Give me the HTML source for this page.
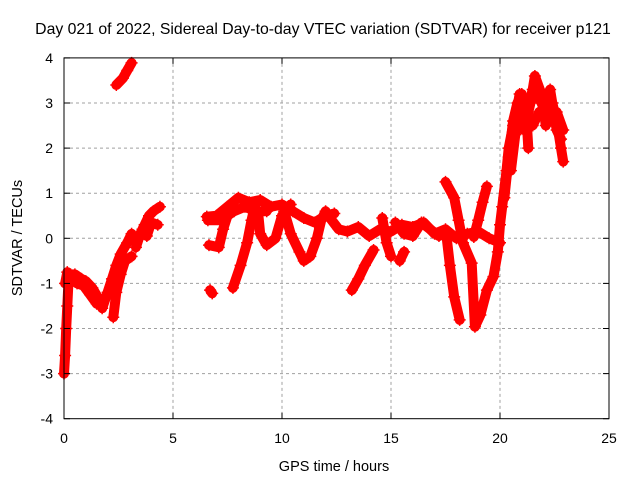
<!DOCTYPE html>
<html><head><meta charset="utf-8"><style>
body{margin:0;background:#fff}
svg{display:block;font-family:"Liberation Sans",sans-serif}
</style></head><body>
<svg id="chart" width="640" height="480">
<text x="323" y="34" text-anchor="middle" font-size="15.8">Day 021 of 2022, Sidereal Day-to-day VTEC variation (SDTVAR) for receiver p121</text>
<g id="grid"></g>
<g id="series"></g>
<rect x="64" y="57.9" width="545" height="360.8" fill="none" stroke="#000" stroke-width="1"/>
<g id="axes"></g>
<text x="334" y="471" text-anchor="middle" font-size="14.5">GPS time / hours</text>
<text transform="translate(22,238) rotate(-90)" text-anchor="middle" font-size="14.5">SDTVAR / TECUs</text>
</svg>
<script>
const xTicks=[0,5,10,15,20,25];
const yTicks=[-4,-3,-2,-1,0,1,2,3,4];
const segA_t=[0,0.05,0.1,0.15,0.2,0.3,0.5,0.8,1.0,1.3,1.6,1.75,2.0,2.2,2.4,2.6,2.9,3.1];
const segA_v=[-3.0,-2.6,-2.0,-1.5,-1.0,-0.8,-0.8,-0.9,-0.95,-1.1,-1.35,-1.55,-1.2,-0.9,-0.6,-0.35,-0.1,0.1];
const segA2_t=[0.05,0.15,0.3,0.6,0.9,1.2,1.5,1.7];
const segA2_v=[-1.0,-0.75,-0.9,-1.0,-1.05,-1.25,-1.45,-1.45];
const segB_t=[2.26,2.4,2.6,2.8,3.1];
const segB_v=[-1.75,-1.2,-0.8,-0.5,-0.4];
const segC_t=[3.3,3.5,3.7,3.9,4.1,4.4];
const segC_v=[-0.2,0.1,0.3,0.5,0.6,0.7];
const segC2_t=[3.6,3.8,4.0,4.3];
const segC2_v=[0.2,0.05,0.35,0.3];
const segD_t=[2.4,2.7,2.9,3.1];
const segD_v=[3.4,3.55,3.72,3.89];
const segE_t=[6.55,7.0,7.5,8.0,8.5,9.0,9.5,10.0,10.5,11.0,11.5,12.0,12.4];
const segE_v=[0.48,0.5,0.7,0.9,0.8,0.85,0.7,0.75,0.6,0.45,0.35,0.5,0.55];
const segE2_t=[6.6,7.2,7.8,8.3,8.8,9.3];
const segE2_v=[0.4,0.4,0.6,0.7,0.6,0.6];
const segF_t=[6.65,7.1,7.3,7.5];
const segF_v=[-0.15,-0.2,0.2,0.5];
const segG_t=[6.7,6.8];
const segG_v=[-1.15,-1.22];
const segH_t=[7.75,8.1,8.4,8.6,8.8];
const segH_v=[-1.1,-0.6,-0.1,0.4,0.8];
const segI_t=[8.9,9.0,9.3,9.7,10.0,10.4];
const segI_v=[0.6,0.1,-0.15,0.0,0.5,0.75];
const segJ_t=[10.1,10.4,10.8,11.0,11.3,11.6,11.8,12.0];
const segJ_v=[0.6,0.1,-0.3,-0.5,-0.4,0.0,0.4,0.6];
const segK_t=[12.2,12.6,13.0,13.5,14.0,14.5,15.0,15.5,16.0,16.5,17.0,17.5,18.0,18.5,19.0,19.5,20.0];
const segK_v=[0.45,0.2,0.15,0.25,0.05,0.2,0.15,0.3,0.25,0.35,0.1,0.2,0.0,0.1,0.15,0.0,-0.1];
const segK2_t=[15.2,15.6,16.0,16.4,16.8,17.2];
const segK2_v=[0.35,0.1,0.05,0.35,0.2,0.05];
const segL_t=[14.2,13.8,13.5,13.2];
const segL_v=[-0.26,-0.6,-0.9,-1.15];
const segM_t=[14.6,14.8,15.0];
const segM_v=[0.45,-0.1,-0.4];
const segN_t=[15.4,15.6];
const segN_v=[-0.5,-0.3];
const segO_t=[17.5,17.9,18.1,18.3,18.7,18.85,19.1,19.4,19.7,19.9,20.0,20.1,20.3,20.4,20.6,20.8,20.9];
const segO_v=[1.25,0.9,0.4,-0.1,-0.55,-1.96,-1.7,-1.15,-0.85,-0.3,0.3,0.7,1.5,2.0,2.5,2.9,3.2];
const segP_t=[17.55,17.7,17.9,18.15];
const segP_v=[0.03,-0.6,-1.3,-1.81];
const segQ_t=[18.8,19.0,19.2,19.4];
const segQ_v=[0.03,0.4,0.8,1.15];
const segR_t=[20.2,20.4,20.6,20.8,21.0,21.2,21.3];
const segR_v=[0.9,1.8,2.6,3.0,3.2,2.8,2.0];
const segR2_t=[20.5,20.7,20.9,21.1,21.3,21.5];
const segR2_v=[1.5,2.3,2.7,2.4,2.9,3.3];
const segS_t=[21.2,21.4,21.6,21.9,22.1,22.4,22.6,22.8,22.9];
const segS_v=[2.6,3.0,3.6,3.2,2.5,3.0,2.6,2.0,1.7];
const segT_t=[21.5,21.8,22.0,22.3,22.6,22.9];
const segT_v=[2.5,2.8,2.7,2.6,2.8,2.4];
const segU_t=[21.7,22.0,22.3,22.6,22.8];
const segU_v=[3.2,2.9,3.3,2.4,2.2];
const segments=[[segA_t,segA_v],[segA2_t,segA2_v],[segB_t,segB_v],[segC_t,segC_v],[segC2_t,segC2_v],[segD_t,segD_v],[segE_t,segE_v],[segE2_t,segE2_v],[segF_t,segF_v],[segG_t,segG_v],[segH_t,segH_v],[segI_t,segI_v],[segJ_t,segJ_v],[segK_t,segK_v],[segK2_t,segK2_v],[segL_t,segL_v],[segM_t,segM_v],[segN_t,segN_v],[segO_t,segO_v],[segP_t,segP_v],[segQ_t,segQ_v],[segR_t,segR_v],[segR2_t,segR2_v],[segS_t,segS_v],[segT_t,segT_v],[segU_t,segU_v]];

const NS="http://www.w3.org/2000/svg";
const X0=64,X1=609,Y0=418.7,Y1=57.9;
const xs=t=>X0+(t-0)/(25-0)*(X1-X0);
const ys=v=>Y0-(v-(-4))/(8)*(Y0-Y1);
const grid=document.getElementById('grid'),axes=document.getElementById('axes'),ser=document.getElementById('series');
function mk(tag,attrs,parent){const e=document.createElementNS(NS,tag);for(const k in attrs)e.setAttribute(k,attrs[k]);parent.appendChild(e);return e;}
xTicks.forEach(t=>{
  const x=xs(t);
  if(t>0&&t<25){const g=mk('line',{x1:x,x2:x,y1:Y1,y2:Y0,stroke:'#a0a0a0','stroke-dasharray':'3,3'},grid);
  
  }
  const a=mk('line',{x1:x,x2:x,y1:Y0,y2:Y0-6,stroke:'#000'},axes);
  
  
  const b=mk('line',{x1:x,x2:x,y1:Y1,y2:Y1+6,stroke:'#000'},axes);
  
  
  const l=mk('text',{x:x,y:443,'text-anchor':'middle','font-size':'14'},axes);
  l.textContent=t;
  
  
});
yTicks.forEach(v=>{
  const y=ys(v);
  if(v>-4&&v<4){const g=mk('line',{x1:X0,x2:X1,y1:y,y2:y,stroke:'#a0a0a0','stroke-dasharray':'3,3'},grid);
  
  }
  const a=mk('line',{x1:X0,x2:X0+6,y1:y,y2:y,stroke:'#000'},axes);
  
  
  const b=mk('line',{x1:X1,x2:X1-6,y1:y,y2:y,stroke:'#000'},axes);
  
  
  const l=mk('text',{x:53,y:y+5,'text-anchor':'end','font-size':'14'},axes);
  l.textContent=v;
  
  
});
segments.forEach(([T,V])=>{
  const pts=T.map((t,i)=>xs(t).toFixed(1)+','+ys(V[i]).toFixed(1)).join(' ');
  const pl=mk('polyline',{points:pts,fill:'none',stroke:'#ff0000','stroke-width':'10','stroke-linejoin':'round','stroke-linecap':'round'},ser);
  
  
  T.forEach((t,i)=>{
    const x=xs(t),y=ys(V[i]);
    const m=mk('path',{d:`M${x-6},${y}H${x+6}M${x},${y-6}V${y+6}`,stroke:'#ff0000','stroke-width':'1.5'},ser);
    
    
  });
});
</script>
</body></html>
